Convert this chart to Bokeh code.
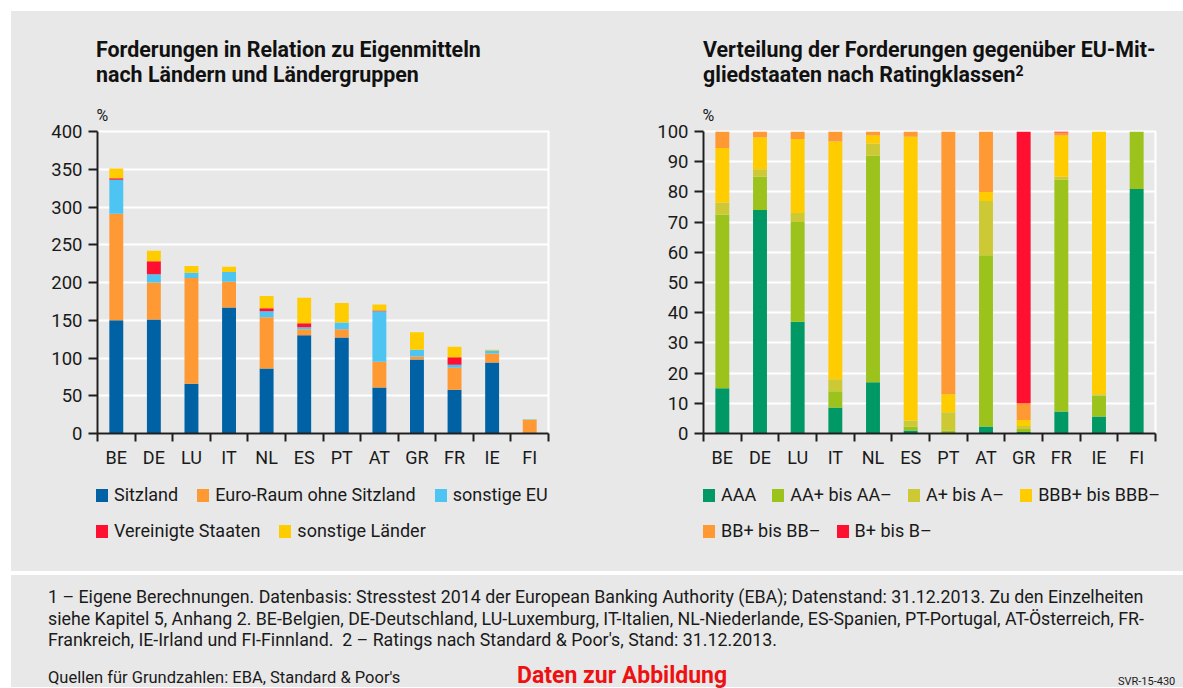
from bokeh.plotting import figure
from bokeh.models import (ColumnDataSource, FactorRange, Range1d, LinearAxis,
                          FixedTicker, Div, Spacer)
from bokeh.layouts import row, column
from bokeh.embed import file_html
from bokeh.resources import INLINE

# ---------------- data ----------------
countries = ["BE", "DE", "LU", "IT", "NL", "ES", "PT", "AT", "GR", "FR", "IE", "FI"]

# left chart: Forderungen in Relation zu Eigenmitteln (%)
sitzland = [150, 151, 66, 167, 86, 130, 127, 61, 98, 58, 94, 1]
euro_ohne_sitzland = [141, 49, 140, 34, 68, 8, 11, 34, 4, 29, 12, 17]
sonstige_eu = [45, 11, 7, 13, 8, 2.6, 9, 67, 9, 4, 4, 0.5]
vereinigte_staaten = [2, 17, 0, 0, 4, 5.3, 0, 1, 0, 10, 0, 0]
sonstige_laender = [13, 14, 9, 7, 16, 34, 26, 8, 23, 14, 1, 0.5]
left_labels = ["Sitzland", "Euro-Raum ohne Sitzland", "sonstige EU",
               "Vereinigte Staaten", "sonstige Länder"]
left_colors = ["#0061a5", "#ff9933", "#4dc4f1", "#ff0f30", "#ffcc00"]
left_ticks = [0, 50, 100, 150, 200, 250, 300, 350, 400]

# right chart: Verteilung nach Ratingklassen (%)
aaa = [15, 74, 37, 8.6, 17, 1, 0, 2.3, 0.5, 7.3, 5.6, 81]
aa = [57.5, 11, 33, 5.4, 75, 1.3, 1, 56.7, 1, 76.7, 7, 19]
a = [4, 2.5, 3, 4, 4, 2, 6, 18, 1, 1, 0.4, 0]
bbb = [18, 10.5, 24.5, 78.7, 2.7, 94, 6, 3, 2, 13.7, 87, 0]
bb = [5.5, 2, 2.5, 3.3, 1.3, 1.7, 87, 20, 5.5, 1, 0, 0]
b = [0, 0, 0, 0, 0, 0, 0, 0, 90, 0.3, 0, 0]
right_labels = ["AAA", "AA+ bis AA–", "A+ bis A–", "BBB+ bis BBB–", "BB+ bis BB–", "B+ bis B–"]
right_colors = ["#009966", "#9cc31c", "#cdc934", "#ffcc00", "#ff9933", "#ff0f30"]
right_ticks = [0, 10, 20, 30, 40, 50, 60, 70, 80, 90, 100]

# ---------------- style ----------------
GRAY = "#e8e8e8"
AX = "#1e1e1e"
TXT = "#1a1a1a"
FONT = "Roboto"
BG = {"background-color": GRAY}


def build(width, ymax, ticks, names, series, colors, border_left, border_right):
    data = {"country": countries}
    for n, s in zip(names, series):
        data[n] = s
    src = ColumnDataSource(data)
    p = figure(x_range=FactorRange(*countries), y_range=Range1d(0, ymax),
               width=width, height=380, output_backend="svg", toolbar_location=None,
               x_axis_location=None, title="%",
               min_border_left=border_left, min_border_right=border_right,
               min_border_top=36, min_border_bottom=42, margin=0, styles=BG,
               background_fill_color=GRAY, border_fill_color=GRAY,
               outline_line_color="white", outline_line_width=2)
    p.title.text_font = FONT
    p.title.text_font_size = "16px"
    p.title.text_font_style = "normal"
    p.title.text_color = TXT
    p.title.align = "left"
    p.title.offset = -1
    p.title.standoff = 14

    p.vbar_stack(names, x="country", width=0.37, source=src,
                 fill_color=colors, line_color=None)

    yax = p.yaxis[0]
    yax.ticker = FixedTicker(ticks=ticks)
    yax.major_tick_in = 0
    yax.major_tick_out = 9
    yax.minor_tick_out = 0
    yax.major_tick_line_width = 2
    yax.major_tick_line_color = AX
    yax.axis_line_width = 2
    yax.axis_line_color = AX
    yax.major_label_standoff = 6
    yax.major_label_text_font = FONT
    yax.major_label_text_font_size = "18.5px"
    yax.major_label_text_color = TXT

    p.ygrid.ticker = FixedTicker(ticks=ticks)
    p.ygrid.grid_line_color = "white"
    p.ygrid.grid_line_width = 2
    p.xgrid.visible = False

    # country labels at category centres, tick marks at category boundaries
    n = len(countries)
    centres = [i + 0.5 for i in range(n)]
    xax = LinearAxis(ticker=FixedTicker(ticks=centres, minor_ticks=list(range(n + 1))),
                     major_label_overrides={c: lab for c, lab in zip(centres, countries)},
                     major_tick_in=0, major_tick_out=8, major_tick_line_alpha=0,
                     minor_tick_in=0, minor_tick_out=8,
                     minor_tick_line_width=2, minor_tick_line_color=AX,
                     axis_line_color=AX, axis_line_width=2,
                     major_label_standoff=5, major_label_text_font=FONT,
                     major_label_text_font_size="18px", major_label_text_color=TXT)
    p.add_layout(xax, "below")
    return p


def legend_div(width, left, rows, gap):
    html = (f'<div style="position:relative;width:{width}px;height:96px;font-family:Roboto;'
            f'font-size:18px;color:{TXT};">')
    for i, items in enumerate(rows):
        top = 10 + 36 * i
        html += (f'<div style="position:absolute;left:{left}px;top:{top}px;height:20px;'
                 'display:flex;align-items:center;white-space:nowrap;">')
        for j, (lab, col) in enumerate(items):
            ml = 0 if j == 0 else gap
            html += (f'<span style="display:inline-block;width:12px;height:13px;background:{col};'
                     f'margin-left:{ml}px;margin-right:6px;"></span>'
                     f'<span style="line-height:20px;">{lab}</span>')
        html += '</div>'
    html += '</div>'
    return Div(width=width, height=96, margin=0, styles=BG, text=html)


W1, W2 = 609, 563
p1 = build(W1, 400, left_ticks,
           ["sitzland", "euro", "seu", "usa", "sonst"],
           [sitzland, euro_ohne_sitzland, sonstige_eu, vereinigte_staaten, sonstige_laender],
           left_colors, 86, 72)
p2 = build(W2, 100, right_ticks,
           ["aaa", "aa", "a", "bbb", "bb", "b"],
           [aaa, aa, a, bbb, bb, b],
           right_colors, 83, 28)

lp = list(zip(left_labels, left_colors))
rp = list(zip(right_labels, right_colors))
l1 = legend_div(W1, 85, [lp[:3], lp[3:]], 19)
l2 = legend_div(W2, 83, [rp[:4], rp[4:]], 16)

title_style = ("position:absolute;top:26px;font-family:Roboto;font-size:21.4px;font-weight:bold;"
               "line-height:25px;white-space:nowrap;color:#111;")
t1 = Div(width=W1, height=84, margin=0, styles=BG,
         text=(f'<div style="position:relative;width:{W1}px;height:84px;">'
               f'<div style="{title_style}left:85px;">Forderungen in Relation zu Eigenmitteln<br>'
               'nach Ländern und Ländergruppen</div></div>'))
t2 = Div(width=W2, height=84, margin=0, styles=BG,
         text=(f'<div style="position:relative;width:{W2}px;height:84px;">'
               f'<div style="{title_style}left:83px;">Verteilung der Forderungen gegenüber EU-Mit-<br>'
               'gliedstaaten nach Ratingklassen<span style="font-size:14px;vertical-align:6px;line-height:0;">2</span>'
               '</div></div>'))

WT = W1 + W2
footer = Div(width=WT, height=112, margin=0, styles=BG,
             text=(f'<div style="position:relative;width:{WT}px;height:112px;font-family:Roboto;color:#1a1a1a;">'
                   '<div style="position:absolute;left:37px;top:11px;font-size:17.8px;line-height:21.5px;white-space:nowrap;">'
                   '1 – Eigene Berechnungen. Datenbasis: Stresstest 2014 der European Banking Authority (EBA); '
                   'Datenstand: 31.12.2013. Zu den Einzelheiten<br>'
                   'siehe Kapitel 5, Anhang 2. BE-Belgien, DE-Deutschland, LU-Luxemburg, IT-Italien, NL-Niederlande, '
                   'ES-Spanien, PT-Portugal, AT-Österreich, FR-<br>'
                   'Frankreich, IE-Irland und FI-Finnland.&nbsp; 2 – Ratings nach Standard &amp; Poor\'s, Stand: 31.12.2013.</div>'
                   '<div style="position:absolute;left:37px;top:91px;font-size:16.5px;white-space:nowrap;">'
                   'Quellen für Grundzahlen: EBA, Standard &amp; Poor\'s</div>'
                   '<div style="position:absolute;left:506px;top:85px;font-size:23px;font-weight:bold;color:#ee1111;white-space:nowrap;">'
                   'Daten zur Abbildung</div>'
                   '<div style="position:absolute;left:1107px;top:99px;font-size:11px;white-space:nowrap;">SVR-15-430</div>'
                   '</div>'))

top = column(row(t1, t2, spacing=0, margin=0, styles=BG),
             row(p1, p2, spacing=0, margin=0, styles=BG),
             row(l1, l2, spacing=0, margin=0, styles=BG), spacing=0, margin=0, styles=BG)
layout = column(top, Spacer(height=4, width=WT, margin=0), footer, spacing=0, margin=(11, 0, 0, 11))

open("out.html", "w").write(file_html(layout, INLINE))
